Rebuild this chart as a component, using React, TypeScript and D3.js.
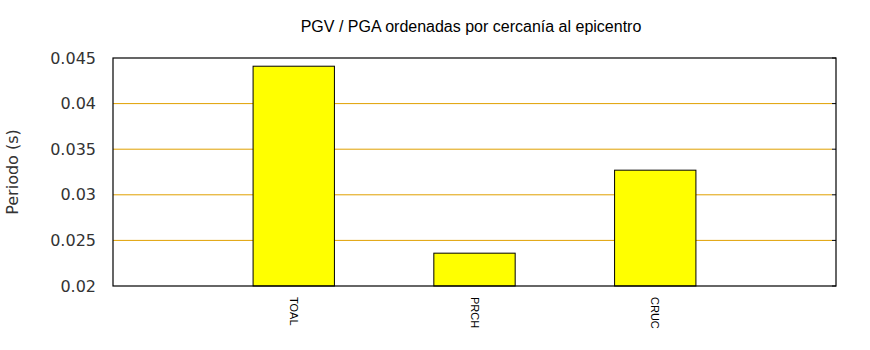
import React from "react";
import * as d3 from "d3";

const stations: string[] = ["TOAL", "PRCH", "CRUC"];
const periods: number[] = [0.0441, 0.0236, 0.0327];
const yTicks: number[] = [0.02, 0.025, 0.03, 0.035, 0.04, 0.045];
const yTickLabels: string[] = ["0.02", "0.025", "0.03", "0.035", "0.04", "0.045"];
const title = "PGV / PGA ordenadas por cercanía al epicentro";
const yLabel = "Periodo (s)";

export default function App() {
  const W = 870, H = 350;
  const left = 113, right = 836, top = 58, bottom = 286;
  const x = d3.scaleLinear().domain([0, stations.length + 1]).range([left, right]);
  const y = d3.scaleLinear().domain([0.02, 0.045]).range([bottom, top]);
  const bw = 0.45;
  return (
    <svg width={W} height={H} style={{ position: "absolute", left: 0, top: 0, background: "#fff" }}>
      <rect x={0} y={0} width={W} height={H} fill="#fff" />
      {yTicks.map((t, i) => (
        <g key={i}>
          {i > 0 && i < yTicks.length - 1 && (
            <line x1={left} x2={right - 4} y1={y(t)} y2={y(t)} stroke="#e0a000" strokeWidth={1} />
          )}
          <line x1={right - 4} x2={right} y1={y(t)} y2={y(t)} stroke="#000" strokeWidth={1} />
          <text x={96} y={y(t)} textAnchor="end" dominantBaseline="central"
            fontFamily="DejaVu Sans" fontSize={16} fill="#333">{yTickLabels[i]}</text>
        </g>
      ))}
      {stations.map((s, i) => {
        const c = x(i + 1);
        const w = x(bw) - x(0);
        return (
          <g key={s}>
            <rect x={c - w / 2} y={y(periods[i])} width={w} height={bottom - y(periods[i])}
              fill="#ffff00" stroke="#000" strokeWidth={1} />
            <text transform={`translate(${c},297) rotate(90)`} textAnchor="start" dominantBaseline="central"
              fontFamily="Liberation Sans" fontSize={11} fill="#000">{s}</text>
          </g>
        );
      })}
      <rect x={left} y={top} width={right - left} height={bottom - top} fill="none" stroke="#000" strokeWidth={1.2} />
      <text x={471} y={32} textAnchor="middle" fontFamily="Liberation Sans" fontSize={16} fill="#000">{title}</text>
      <text transform={`translate(12,172) rotate(-90)`} textAnchor="middle" dominantBaseline="central"
        fontFamily="DejaVu Sans" fontSize={16} fill="#333">{yLabel}</text>
    </svg>
  );
}
